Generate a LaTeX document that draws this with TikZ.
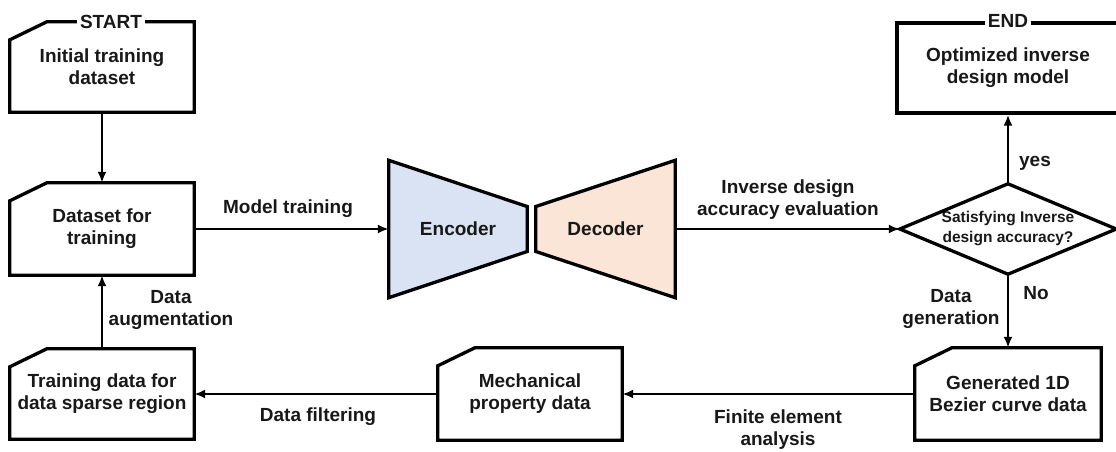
\documentclass[tikz,border=0pt]{standalone}
\usepackage{fontspec}
\setmainfont{Liberation Sans}
\usepackage{tikz}
\usetikzlibrary{arrows.meta,shapes,calc,backgrounds}
\definecolor{txtcol}{RGB}{24,24,24}
\definecolor{encblue}{RGB}{218,227,243}
\definecolor{decpeach}{RGB}{251,229,214}
\newcommand{\flowfont}{\bfseries\fontsize{19}{22}\selectfont}
\newcommand{\askfont}{\bfseries\fontsize{15.5}{20}\selectfont}
% outline with the cut top-left corner
\newcommand{\cutbox}[1]{%
  \draw[boxline] ($(#1.north west)+(0,-18)$) -- ($(#1.north west)+(37,0)$)
    -- (#1.north east) -- (#1.south east) -- (#1.south west) -- cycle;}

\begin{document}
\begin{tikzpicture}[x=1pt, y=1pt, >={Latex[length=11pt,width=9pt]}]
      \tikzstyle{every node}=[font=\flowfont, text=txtcol]
      \tikzstyle{box}=[rectangle, minimum width=184pt, minimum height=90pt, inner sep=0pt, align=center]
      \tikzstyle{boxline}=[line width=3.3pt, line join=miter, draw=black]
      \tikzstyle{flow}=[->, line width=2.9pt, draw=black]
      \tikzstyle{tag}=[fill=white, inner sep=3pt]
      \useasboundingbox (0,0) rectangle (1116,-451);
      %%
  \node (init) at (102,-67) [box] {Initial training\\dataset};
  \node (data) at (102,-229) [box, minimum height=92pt] {Dataset for\\training};
  \node (sparse) at (102,-394) [box] {Training data for\\data sparse region};
  \node (mech) at (530,-394) [box, minimum height=92pt] {Mechanical\\property data};
  \node (gen) at (1008,-394) [box, minimum width=186pt, minimum height=92pt] {Generated 1D\\Bezier curve data};
  \node (final) at (1008,-68) [box, minimum width=222pt, boxline] {Optimized inverse\\design model};
  \node (enc) at (458,-229) [rectangle, minimum width=138pt, minimum height=137pt, inner sep=0pt] {Encoder};
  \node (dec) at (605.5,-229) [rectangle, minimum width=139pt, minimum height=137pt, inner sep=0pt] {Decoder};
  \node (dia) at (1008,-229) [rectangle, minimum width=216pt, minimum height=90pt, inner sep=0pt, align=center, font=\askfont] {Satisfying Inverse\\design accuracy?};
  \cutbox{init}
  \cutbox{data}
  \cutbox{sparse}
  \cutbox{mech}
  \cutbox{gen}
  \draw[boxline] (dia.west) -- (dia.north) -- (dia.east) -- (dia.south) -- cycle;
  \begin{scope}[on background layer]
    \draw[boxline, fill=encblue] (enc.north west) -- ($(enc.east)+(0,22.5)$) -- ($(enc.east)+(0,-22.5)$) -- (enc.south west) -- cycle;
    \draw[boxline, fill=decpeach] ($(dec.west)+(0,22.5)$) -- (dec.north east) -- (dec.south east) -- ($(dec.west)+(0,-22.5)$) -- cycle;
  \end{scope}
  \node (startlbl) at ($(init.north)+(9,0)$) [tag] {START};
  \node (endlbl) at (final.north) [tag] {END};
  %%
  \node (lbltrain) at (288,-209) {Model training};
  \node (lbleval) at (788,-200) [align=center] {Inverse design\\accuracy evaluation};
  \node (lblyes) at (1035,-163) {yes};
  \node (lblno) at (1036,-293) {No};
  \node (lblgen) at (951,-309) [align=center] {Data\\generation};
  \node (lblaug) at (171,-310) [align=center] {Data\\augmentation};
  \node (lblfilt) at (318,-417) {Data filtering};
  \node (lblfea) at (778,-430) [align=center] {Finite element\\analysis};
  %%
  \draw [flow] (init) -- (data);
  \draw [flow] (sparse) -- (data);
  \draw [flow] (data) -- (enc);
  \draw [flow] (dec) -- (dia);
  \draw [flow] (dia) -- (final);
  \draw [flow] (dia) -- (gen);
  \draw [flow] (gen) -- (mech);
  \draw [flow] (mech) -- (sparse);
%
\end{tikzpicture}
\end{document}
